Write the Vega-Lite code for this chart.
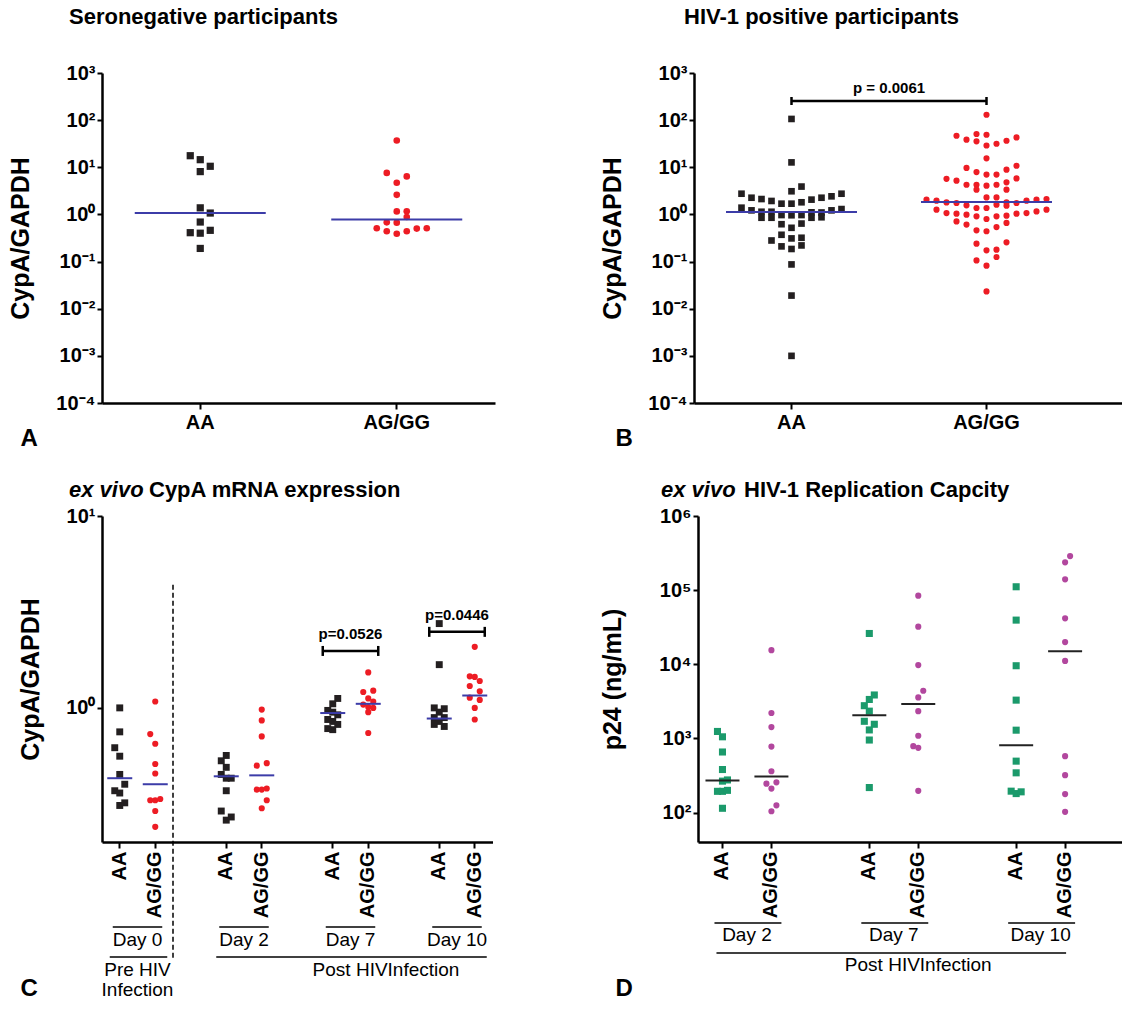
{
"$schema":"https://vega.github.io/schema/vega-lite/v6.json",
"background":"white",
"padding":{"left":8,"top":6,"right":0,"bottom":0},
"config":{
 "font":"Liberation Sans",
 "view":{"stroke":null},
 "axis":{"grid":false,"domainColor":"#000","domainWidth":2.5,"tickColor":"#000","tickWidth":2,"tickSize":6,"labelColor":"#000","labelFont":"Liberation Sans","labelFontWeight":"bold","labelFontSize":20,"titleColor":"#000","titleFont":"Liberation Sans","titleFontWeight":"bold","titleFontSize":25},
 "title":{"font":"Liberation Sans","fontSize":22,"fontWeight":"bold","color":"#000","anchor":"start","frame":"group"}
},
"datasets":{
 "A":[{"geno":"AA","col":-1,"v":17.6},{"geno":"AA","col":0,"v":14.5},{"geno":"AA","col":1,"v":10.5},{"geno":"AA","col":0,"v":8.1},{"geno":"AA","col":0,"v":1.38},{"geno":"AA","col":1,"v":1.07},{"geno":"AA","col":0,"v":0.69},{"geno":"AA","col":-1,"v":0.41},{"geno":"AA","col":0,"v":0.4},{"geno":"AA","col":1,"v":0.46},{"geno":"AA","col":0,"v":0.19},
  {"geno":"AG/GG","col":0,"v":37},{"geno":"AG/GG","col":-1,"v":7.6},{"geno":"AG/GG","col":1,"v":6.4},{"geno":"AG/GG","col":0,"v":4.7},{"geno":"AG/GG","col":0,"v":2.6},{"geno":"AG/GG","col":0,"v":1.16},{"geno":"AG/GG","col":1,"v":1.17},{"geno":"AG/GG","col":1,"v":0.88},{"geno":"AG/GG","col":-1,"v":0.68},{"geno":"AG/GG","col":0,"v":0.67},{"geno":"AG/GG","col":-2,"v":0.51},{"geno":"AG/GG","col":-1,"v":0.44},{"geno":"AG/GG","col":0,"v":0.39},{"geno":"AG/GG","col":1,"v":0.44},{"geno":"AG/GG","col":2,"v":0.5},{"geno":"AG/GG","col":3,"v":0.51}],
 "A_med":[{"geno":"AA","v":1.07},{"geno":"AG/GG","v":0.78}],
 "B":[{"geno":"AA","col":0,"v":106},{"geno":"AA","col":0,"v":12.7},{"geno":"AA","col":1,"v":3.9},{"geno":"AA","col":0,"v":3.1},{"geno":"AA","col":-5,"v":2.75},{"geno":"AA","col":5,"v":2.75},{"geno":"AA","col":-4,"v":2.26},{"geno":"AA","col":4,"v":2.42},{"geno":"AA","col":-3,"v":2.12},{"geno":"AA","col":3,"v":2.26},{"geno":"AA","col":-2,"v":1.93},{"geno":"AA","col":2,"v":2.06},{"geno":"AA","col":-1,"v":1.69},{"geno":"AA","col":0,"v":1.69},{"geno":"AA","col":1,"v":1.81},{"geno":"AA","col":-5,"v":1.39},{"geno":"AA","col":5,"v":1.3},{"geno":"AA","col":-4,"v":1.22},{"geno":"AA","col":4,"v":1.22},{"geno":"AA","col":-3,"v":1.14},{"geno":"AA","col":-3,"v":0.85},{"geno":"AA","col":-2,"v":1.14},{"geno":"AA","col":-2,"v":0.85},{"geno":"AA","col":-1,"v":0.97},{"geno":"AA","col":0,"v":0.96},{"geno":"AA","col":1,"v":0.97},{"geno":"AA","col":1,"v":0.64},{"geno":"AA","col":2,"v":1.11},{"geno":"AA","col":2,"v":0.85},{"geno":"AA","col":3,"v":1.1},{"geno":"AA","col":3,"v":0.87},{"geno":"AA","col":-1,"v":0.62},{"geno":"AA","col":0,"v":0.52},{"geno":"AA","col":-1,"v":0.37},{"geno":"AA","col":-2,"v":0.28},{"geno":"AA","col":0,"v":0.31},{"geno":"AA","col":1,"v":0.32},{"geno":"AA","col":1,"v":0.22},{"geno":"AA","col":-1,"v":0.21},{"geno":"AA","col":0,"v":0.185},{"geno":"AA","col":0,"v":0.087},{"geno":"AA","col":0,"v":0.019},{"geno":"AA","col":0,"v":0.001},
  {"geno":"AG/GG","col":0,"v":130},{"geno":"AG/GG","col":-3,"v":46.7},{"geno":"AG/GG","col":-2,"v":38.5},{"geno":"AG/GG","col":-1,"v":50.8},{"geno":"AG/GG","col":-1,"v":35.5},{"geno":"AG/GG","col":0,"v":49},{"geno":"AG/GG","col":0,"v":29},{"geno":"AG/GG","col":1,"v":31.6},{"geno":"AG/GG","col":2,"v":36.6},{"geno":"AG/GG","col":3,"v":43},{"geno":"AG/GG","col":0,"v":15.5},{"geno":"AG/GG","col":-2,"v":9.7},{"geno":"AG/GG","col":-1,"v":7.9},{"geno":"AG/GG","col":0,"v":7.0},{"geno":"AG/GG","col":1,"v":7.0},{"geno":"AG/GG","col":2,"v":8.9},{"geno":"AG/GG","col":3,"v":10.8},{"geno":"AG/GG","col":-4,"v":5.7},{"geno":"AG/GG","col":-3,"v":5.2},{"geno":"AG/GG","col":3,"v":5.8},{"geno":"AG/GG","col":-2,"v":4.27},{"geno":"AG/GG","col":-1,"v":4.27},{"geno":"AG/GG","col":0,"v":4.07},{"geno":"AG/GG","col":1,"v":4.27},{"geno":"AG/GG","col":2,"v":4.8},{"geno":"AG/GG","col":-1,"v":3.35},{"geno":"AG/GG","col":2,"v":3.35},{"geno":"AG/GG","col":0,"v":2.3},{"geno":"AG/GG","col":1,"v":2.3},{"geno":"AG/GG","col":-6,"v":2.06},{"geno":"AG/GG","col":-5,"v":1.96},{"geno":"AG/GG","col":-4,"v":1.8},{"geno":"AG/GG","col":-3,"v":1.75},{"geno":"AG/GG","col":2,"v":1.8},{"geno":"AG/GG","col":3,"v":1.75},{"geno":"AG/GG","col":4,"v":1.96},{"geno":"AG/GG","col":5,"v":2.06},{"geno":"AG/GG","col":6,"v":2.12},{"geno":"AG/GG","col":-5,"v":1.26},{"geno":"AG/GG","col":-4,"v":1.07},{"geno":"AG/GG","col":-3,"v":1.04},{"geno":"AG/GG","col":-2,"v":1.56},{"geno":"AG/GG","col":-1,"v":1.37},{"geno":"AG/GG","col":0,"v":1.37},{"geno":"AG/GG","col":1,"v":1.61},{"geno":"AG/GG","col":2,"v":1.53},{"geno":"AG/GG","col":3,"v":1.04},{"geno":"AG/GG","col":4,"v":1.07},{"geno":"AG/GG","col":5,"v":1.16},{"geno":"AG/GG","col":6,"v":1.26},{"geno":"AG/GG","col":-3,"v":0.71},{"geno":"AG/GG","col":-2,"v":0.99},{"geno":"AG/GG","col":-1,"v":0.91},{"geno":"AG/GG","col":0,"v":0.8},{"geno":"AG/GG","col":1,"v":0.91},{"geno":"AG/GG","col":2,"v":0.94},{"geno":"AG/GG","col":-2,"v":0.61},{"geno":"AG/GG","col":1,"v":0.54},{"geno":"AG/GG","col":2,"v":0.66},{"geno":"AG/GG","col":-1,"v":0.46},{"geno":"AG/GG","col":0,"v":0.44},{"geno":"AG/GG","col":-1,"v":0.24},{"geno":"AG/GG","col":2,"v":0.256},{"geno":"AG/GG","col":0,"v":0.173},{"geno":"AG/GG","col":1,"v":0.179},{"geno":"AG/GG","col":1,"v":0.125},{"geno":"AG/GG","col":-1,"v":0.106},{"geno":"AG/GG","col":0,"v":0.082},{"geno":"AG/GG","col":0,"v":0.0233}],
 "B_med":[{"geno":"AA","v":1.12},{"geno":"AG/GG","v":1.84}],
 "B_brk":[{"from":"AA","to":"AG/GG","y":255,"p":"p = 0.0061"}],
 "C":[{"cat":"D0 AA","geno":"AA","col":0,"v":1.0},{"cat":"D0 AA","geno":"AA","col":0,"v":0.75},{"cat":"D0 AA","geno":"AA","col":-1,"v":0.62},{"cat":"D0 AA","geno":"AA","col":0,"v":0.56},{"cat":"D0 AA","geno":"AA","col":0,"v":0.45},{"cat":"D0 AA","geno":"AA","col":1,"v":0.4},{"cat":"D0 AA","geno":"AA","col":-1,"v":0.37},{"cat":"D0 AA","geno":"AA","col":0,"v":0.36},{"cat":"D0 AA","geno":"AA","col":1,"v":0.32},{"cat":"D0 AA","geno":"AA","col":0,"v":0.31},
  {"cat":"D0 AG/GG","geno":"AG/GG","col":0,"v":1.08},{"cat":"D0 AG/GG","geno":"AG/GG","col":-1,"v":0.73},{"cat":"D0 AG/GG","geno":"AG/GG","col":0,"v":0.65},{"cat":"D0 AG/GG","geno":"AG/GG","col":0,"v":0.51},{"cat":"D0 AG/GG","geno":"AG/GG","col":0,"v":0.455},{"cat":"D0 AG/GG","geno":"AG/GG","col":-1,"v":0.33},{"cat":"D0 AG/GG","geno":"AG/GG","col":0,"v":0.33},{"cat":"D0 AG/GG","geno":"AG/GG","col":1,"v":0.335},{"cat":"D0 AG/GG","geno":"AG/GG","col":0,"v":0.29},{"cat":"D0 AG/GG","geno":"AG/GG","col":0,"v":0.24},
  {"cat":"D2 AA","geno":"AA","col":0,"v":0.565},{"cat":"D2 AA","geno":"AA","col":-1,"v":0.53},{"cat":"D2 AA","geno":"AA","col":0,"v":0.49},{"cat":"D2 AA","geno":"AA","col":-1,"v":0.45},{"cat":"D2 AA","geno":"AA","col":0,"v":0.43},{"cat":"D2 AA","geno":"AA","col":1,"v":0.43},{"cat":"D2 AA","geno":"AA","col":0,"v":0.37},{"cat":"D2 AA","geno":"AA","col":-1,"v":0.29},{"cat":"D2 AA","geno":"AA","col":0,"v":0.26},{"cat":"D2 AA","geno":"AA","col":1,"v":0.27},
  {"cat":"D2 AG/GG","geno":"AG/GG","col":0,"v":0.98},{"cat":"D2 AG/GG","geno":"AG/GG","col":0,"v":0.86},{"cat":"D2 AG/GG","geno":"AG/GG","col":0,"v":0.71},{"cat":"D2 AG/GG","geno":"AG/GG","col":-1,"v":0.5},{"cat":"D2 AG/GG","geno":"AG/GG","col":1,"v":0.515},{"cat":"D2 AG/GG","geno":"AG/GG","col":-1,"v":0.375},{"cat":"D2 AG/GG","geno":"AG/GG","col":0,"v":0.375},{"cat":"D2 AG/GG","geno":"AG/GG","col":1,"v":0.38},{"cat":"D2 AG/GG","geno":"AG/GG","col":1,"v":0.33},{"cat":"D2 AG/GG","geno":"AG/GG","col":0,"v":0.3},
  {"cat":"D7 AA","geno":"AA","col":1,"v":1.12},{"cat":"D7 AA","geno":"AA","col":0,"v":1.05},{"cat":"D7 AA","geno":"AA","col":-1,"v":0.97},{"cat":"D7 AA","geno":"AA","col":0,"v":0.95},{"cat":"D7 AA","geno":"AA","col":1,"v":0.92},{"cat":"D7 AA","geno":"AA","col":-1,"v":0.87},{"cat":"D7 AA","geno":"AA","col":0,"v":0.85},{"cat":"D7 AA","geno":"AA","col":1,"v":0.82},{"cat":"D7 AA","geno":"AA","col":0,"v":0.77},{"cat":"D7 AA","geno":"AA","col":-1,"v":0.78},
  {"cat":"D7 AG/GG","geno":"AG/GG","col":0,"v":1.53},{"cat":"D7 AG/GG","geno":"AG/GG","col":-1,"v":1.21},{"cat":"D7 AG/GG","geno":"AG/GG","col":1,"v":1.23},{"cat":"D7 AG/GG","geno":"AG/GG","col":0,"v":1.12},{"cat":"D7 AG/GG","geno":"AG/GG","col":1,"v":1.08},{"cat":"D7 AG/GG","geno":"AG/GG","col":-1,"v":1.04},{"cat":"D7 AG/GG","geno":"AG/GG","col":0,"v":1.01},{"cat":"D7 AG/GG","geno":"AG/GG","col":1,"v":1.0},{"cat":"D7 AG/GG","geno":"AG/GG","col":0,"v":0.95},{"cat":"D7 AG/GG","geno":"AG/GG","col":0,"v":0.74},
  {"cat":"D10 AA","geno":"AA","col":0,"v":2.75},{"cat":"D10 AA","geno":"AA","col":0,"v":1.68},{"cat":"D10 AA","geno":"AA","col":-1,"v":1.0},{"cat":"D10 AA","geno":"AA","col":1,"v":0.99},{"cat":"D10 AA","geno":"AA","col":0,"v":0.95},{"cat":"D10 AA","geno":"AA","col":-1,"v":0.89},{"cat":"D10 AA","geno":"AA","col":1,"v":0.89},{"cat":"D10 AA","geno":"AA","col":0,"v":0.85},{"cat":"D10 AA","geno":"AA","col":-1,"v":0.82},{"cat":"D10 AA","geno":"AA","col":1,"v":0.8},
  {"cat":"D10 AG/GG","geno":"AG/GG","col":0,"v":2.08},{"cat":"D10 AG/GG","geno":"AG/GG","col":-1,"v":1.46},{"cat":"D10 AG/GG","geno":"AG/GG","col":0,"v":1.45},{"cat":"D10 AG/GG","geno":"AG/GG","col":1,"v":1.38},{"cat":"D10 AG/GG","geno":"AG/GG","col":-1,"v":1.3},{"cat":"D10 AG/GG","geno":"AG/GG","col":1,"v":1.22},{"cat":"D10 AG/GG","geno":"AG/GG","col":-1,"v":1.13},{"cat":"D10 AG/GG","geno":"AG/GG","col":1,"v":1.1},{"cat":"D10 AG/GG","geno":"AG/GG","col":0,"v":1.0},{"cat":"D10 AG/GG","geno":"AG/GG","col":0,"v":0.87}],
 "C_med":[{"cat":"D0 AA","v":0.43},{"cat":"D0 AG/GG","v":0.4},{"cat":"D2 AA","v":0.44},{"cat":"D2 AG/GG","v":0.445},{"cat":"D7 AA","v":0.94},{"cat":"D7 AG/GG","v":1.05},{"cat":"D10 AA","v":0.88},{"cat":"D10 AG/GG","v":1.16}],
 "C_brk":[{"from":"D7 AA","to":"D7 AG/GG","y":1.98,"p":"p=0.0526"},{"from":"D10 AA","to":"D10 AG/GG","y":2.49,"p":"p=0.0446"}],
 "C_lines":[{"from":"D0 AA","to":"D0 AG/GG","level":"day"},{"from":"D2 AA","to":"D2 AG/GG","level":"day"},{"from":"D7 AA","to":"D7 AG/GG","level":"day"},{"from":"D10 AA","to":"D10 AG/GG","level":"day"},{"from":"D0 AA","to":"D0 AG/GG","level":"group"},{"from":"D2 AA","to":"D10 AG/GG","level":"group"}],
 "C_text":[{"at":"D0 AA","label":"Day 0","level":"day"},{"at":"D2 AA","label":"Day 2","level":"day"},{"at":"D7 AA","label":"Day 7","level":"day"},{"at":"D10 AA","label":"Day 10","level":"day"},{"at":"D0 AA","label":"Pre HIV\nInfection","level":"group"},{"at":"D7 AG/GG","label":"Post HIVInfection","level":"group"}],
 "D":[{"cat":"D2 AA","geno":"AA","col":-1,"v":1240},{"cat":"D2 AA","geno":"AA","col":0,"v":1050},{"cat":"D2 AA","geno":"AA","col":0,"v":655},{"cat":"D2 AA","geno":"AA","col":0,"v":380},{"cat":"D2 AA","geno":"AA","col":0,"v":265},{"cat":"D2 AA","geno":"AA","col":1,"v":275},{"cat":"D2 AA","geno":"AA","col":-1,"v":193},{"cat":"D2 AA","geno":"AA","col":0,"v":193},{"cat":"D2 AA","geno":"AA","col":1,"v":199},{"cat":"D2 AA","geno":"AA","col":0,"v":114},
  {"cat":"D2 AG/GG","geno":"AG/GG","col":0,"v":15500},{"cat":"D2 AG/GG","geno":"AG/GG","col":0,"v":2200},{"cat":"D2 AG/GG","geno":"AG/GG","col":0,"v":1420},{"cat":"D2 AG/GG","geno":"AG/GG","col":0,"v":775},{"cat":"D2 AG/GG","geno":"AG/GG","col":0,"v":360},{"cat":"D2 AG/GG","geno":"AG/GG","col":-1,"v":245},{"cat":"D2 AG/GG","geno":"AG/GG","col":1,"v":255},{"cat":"D2 AG/GG","geno":"AG/GG","col":0,"v":210},{"cat":"D2 AG/GG","geno":"AG/GG","col":1,"v":125},{"cat":"D2 AG/GG","geno":"AG/GG","col":0,"v":104},
  {"cat":"D7 AA","geno":"AA","col":0,"v":26000},{"cat":"D7 AA","geno":"AA","col":1,"v":3850},{"cat":"D7 AA","geno":"AA","col":0,"v":3350},{"cat":"D7 AA","geno":"AA","col":-1,"v":2760},{"cat":"D7 AA","geno":"AA","col":0,"v":2330},{"cat":"D7 AA","geno":"AA","col":-1,"v":1700},{"cat":"D7 AA","geno":"AA","col":1,"v":1550},{"cat":"D7 AA","geno":"AA","col":0,"v":1300},{"cat":"D7 AA","geno":"AA","col":0,"v":950},{"cat":"D7 AA","geno":"AA","col":0,"v":217},
  {"cat":"D7 AG/GG","geno":"AG/GG","col":0,"v":84200},{"cat":"D7 AG/GG","geno":"AG/GG","col":0,"v":32100},{"cat":"D7 AG/GG","geno":"AG/GG","col":0,"v":9740},{"cat":"D7 AG/GG","geno":"AG/GG","col":1,"v":4390},{"cat":"D7 AG/GG","geno":"AG/GG","col":0,"v":3565},{"cat":"D7 AG/GG","geno":"AG/GG","col":0,"v":2330},{"cat":"D7 AG/GG","geno":"AG/GG","col":0,"v":1085},{"cat":"D7 AG/GG","geno":"AG/GG","col":-1,"v":786},{"cat":"D7 AG/GG","geno":"AG/GG","col":0,"v":746},{"cat":"D7 AG/GG","geno":"AG/GG","col":0,"v":196},
  {"cat":"D10 AA","geno":"AA","col":0,"v":111000},{"cat":"D10 AA","geno":"AA","col":0,"v":39400},{"cat":"D10 AA","geno":"AA","col":0,"v":9550},{"cat":"D10 AA","geno":"AA","col":0,"v":3280},{"cat":"D10 AA","geno":"AA","col":0,"v":1290},{"cat":"D10 AA","geno":"AA","col":0,"v":493},{"cat":"D10 AA","geno":"AA","col":0,"v":343},{"cat":"D10 AA","geno":"AA","col":-1,"v":194},{"cat":"D10 AA","geno":"AA","col":0,"v":180},{"cat":"D10 AA","geno":"AA","col":1,"v":190},
  {"cat":"D10 AG/GG","geno":"AG/GG","col":1,"v":288000},{"cat":"D10 AG/GG","geno":"AG/GG","col":0,"v":237000},{"cat":"D10 AG/GG","geno":"AG/GG","col":0,"v":140000},{"cat":"D10 AG/GG","geno":"AG/GG","col":0,"v":41600},{"cat":"D10 AG/GG","geno":"AG/GG","col":0,"v":19900},{"cat":"D10 AG/GG","geno":"AG/GG","col":0,"v":11100},{"cat":"D10 AG/GG","geno":"AG/GG","col":0,"v":575},{"cat":"D10 AG/GG","geno":"AG/GG","col":0,"v":319},{"cat":"D10 AG/GG","geno":"AG/GG","col":0,"v":177},{"cat":"D10 AG/GG","geno":"AG/GG","col":0,"v":102}],
 "D_med":[{"cat":"D2 AA","v":270},{"cat":"D2 AG/GG","v":305},{"cat":"D7 AA","v":2050},{"cat":"D7 AG/GG","v":2900},{"cat":"D10 AA","v":810},{"cat":"D10 AG/GG","v":15000}],
 "D_lines":[{"from":"D2 AA","to":"D2 AG/GG","level":"day"},{"from":"D7 AA","to":"D7 AG/GG","level":"day"},{"from":"D10 AA","to":"D10 AG/GG","level":"day"},{"from":"D2 AA","to":"D10 AG/GG","level":"group"}],
 "D_text":[{"at":"D2 AA","label":"Day 2","level":"day"},{"at":"D7 AA","label":"Day 7","level":"day"},{"at":"D10 AA","label":"Day 10","level":"day"},{"at":"D7 AG/GG","label":"Post HIVInfection","level":"group"}]
},
"spacing":29,
"resolve":{"scale":{"color":"independent","shape":"independent","size":"independent","xOffset":"independent"}},
"vconcat":[
 {"spacing":105,
  "resolve":{"scale":{"color":"independent","shape":"independent","size":"independent","xOffset":"independent"}},
  "hconcat":[
  {"width":393,"height":330,
   "title":{"text":"Seronegative participants","dx":-33,"offset":34},
   "layer":[
    {"data":{"name":"A"},"mark":{"type":"point","filled":true,"opacity":1,"strokeWidth":0},
     "encoding":{
      "x":{"field":"geno","type":"nominal","scale":{"type":"band","domain":["AA","AG/GG"],"paddingInner":0,"paddingOuter":0},
           "axis":{"title":"A","labelAngle":0,"labelPadding":3,"titleFontSize":24,"titleAnchor":"start","titleAlign":"left","titleBaseline":"middle","titleX":-82,"titleY":35}},
      "xOffset":{"field":"col","type":"quantitative","scale":{"domain":[-9.825,9.825],"nice":false,"zero":false}},
      "y":{"field":"v","type":"quantitative","scale":{"type":"log","domain":[0.0001,1000],"nice":false},
           "axis":{"title":"CypA/GAPDH","values":[0.0001,0.001,0.01,0.1,1,10,100,1000],"tickSize":5,"titlePadding":22,
                   "labelExpr":"'10' + replace(replace(replace(replace(replace(replace(replace(replace('' + round(log(datum.value) / LN10), '-', '⁻'), '0', '⁰'), '1', '¹'), '2', '²'), '3', '³'), '4', '⁴'), '5', '⁵'), '6', '⁶')"}},
      "shape":{"field":"geno","type":"nominal","scale":{"domain":["AA","AG/GG"],"range":["square","circle"]},"legend":null},
      "color":{"field":"geno","type":"nominal","scale":{"domain":["AA","AG/GG"],"range":["#231f20","#ed1c24"]},"legend":null},
      "size":{"field":"geno","type":"nominal","scale":{"domain":["AA","AG/GG"],"range":[52,44]},"legend":null}}},
    {"data":{"name":"A_med"},"mark":{"type":"tick","orient":"horizontal","size":131,"thickness":2,"color":"#3c3ca8","opacity":1},
     "encoding":{"x":{"field":"geno","type":"nominal"},"y":{"field":"v","type":"quantitative"}}}
   ]},
  {"width":429,"height":330,
   "title":{"text":"HIV-1 positive participants","dx":-10,"offset":34},
   "layer":[
    {"data":{"name":"B"},"mark":{"type":"point","filled":true,"opacity":1,"strokeWidth":0},
     "encoding":{
      "x":{"field":"geno","type":"nominal","scale":{"type":"band","domain":["AA","AG/GG"],"paddingInner":0,"paddingOuter":0.1,"align":0},
           "axis":{"title":"B","labelAngle":0,"labelPadding":3,"titleFontSize":24,"titleAnchor":"start","titleAlign":"left","titleBaseline":"middle","titleX":-79,"titleY":35}},
      "xOffset":{"field":"col","type":"quantitative","scale":{"domain":[-9.75,9.75],"nice":false,"zero":false}},
      "y":{"field":"v","type":"quantitative","scale":{"type":"log","domain":[0.0001,1000],"nice":false},
           "axis":{"title":"CypA/GAPDH","values":[0.0001,0.001,0.01,0.1,1,10,100,1000],"tickSize":5,"titlePadding":22,
                   "labelExpr":"'10' + replace(replace(replace(replace(replace(replace(replace(replace('' + round(log(datum.value) / LN10), '-', '⁻'), '0', '⁰'), '1', '¹'), '2', '²'), '3', '³'), '4', '⁴'), '5', '⁵'), '6', '⁶')"}},
      "shape":{"field":"geno","type":"nominal","scale":{"domain":["AA","AG/GG"],"range":["square","circle"]},"legend":null},
      "color":{"field":"geno","type":"nominal","scale":{"domain":["AA","AG/GG"],"range":["#231f20","#ed1c24"]},"legend":null},
      "size":{"field":"geno","type":"nominal","scale":{"domain":["AA","AG/GG"],"range":[44,38]},"legend":null}}},
    {"data":{"name":"B_med"},"mark":{"type":"tick","orient":"horizontal","size":131,"thickness":2,"color":"#3c3ca8","opacity":1},
     "encoding":{"x":{"field":"geno","type":"nominal"},"y":{"field":"v","type":"quantitative"}}},
    {"data":{"name":"B_brk"},"mark":{"type":"rule","strokeWidth":2.5,"color":"#000"},
     "encoding":{"x":{"field":"from","type":"nominal","bandPosition":0.5},"x2":{"field":"to"},"y":{"field":"y","type":"quantitative"}}},
    {"data":{"name":"B_brk"},"mark":{"type":"tick","orient":"vertical","size":8,"thickness":2.5,"color":"#000","opacity":1},
     "encoding":{"x":{"field":"from","type":"nominal"},"y":{"field":"y","type":"quantitative"}}},
    {"data":{"name":"B_brk"},"mark":{"type":"tick","orient":"vertical","size":8,"thickness":2.5,"color":"#000","opacity":1},
     "encoding":{"x":{"field":"to","type":"nominal"},"y":{"field":"y","type":"quantitative"}}},
    {"data":{"name":"B_brk"},"mark":{"type":"text","fontSize":15,"fontWeight":"bold","baseline":"bottom","dy":-5,"color":"#000"},
     "encoding":{"x":{"field":"from","type":"nominal","bandPosition":1},"y":{"field":"y","type":"quantitative"},"text":{"field":"p"}}}
   ]}
 ]},
 {"spacing":107,
  "resolve":{"scale":{"color":"independent","shape":"independent","size":"independent","xOffset":"independent"}},
  "hconcat":[
  {"title":{"text":"ex vivo","fontStyle":"italic","dx":-33,"dy":23,"offset":0},
   "bounds":"flush","spacing":85,
   "resolve":{"scale":{"color":"independent","shape":"independent","size":"independent","xOffset":"independent"}},
   "vconcat":[
    {"width":390.5,"height":326,
     "title":{"text":"CypA mRNA expression","dx":47,"offset":4},
     "layer":[
      {"data":{"name":"C"},"mark":{"type":"point","filled":true,"opacity":1,"strokeWidth":0},
       "encoding":{
        "x":{"field":"cat","type":"nominal","scale":{"type":"band","domain":["D0 AA","D0 AG/GG","g1","D2 AA","D2 AG/GG","g2","D7 AA","D7 AG/GG","g3","D10 AA","D10 AG/GG"],"paddingInner":0,"paddingOuter":0},
             "axis":{"title":null,"values":["D0 AA","D0 AG/GG","D2 AA","D2 AG/GG","D7 AA","D7 AG/GG","D10 AA","D10 AG/GG"],"labelExpr":"split(datum.value, ' ')[1]","labelAngle":270,"labelPadding":3}},
        "xOffset":{"field":"col","type":"quantitative","scale":{"domain":[-3.55,3.55],"nice":false,"zero":false}},
        "y":{"field":"v","type":"quantitative","scale":{"type":"log","domain":[0.2,10],"nice":false},
             "axis":{"title":"CypA/GAPDH","values":[1,10],"tickSize":5,"titlePadding":22,
                     "labelExpr":"'10' + replace(replace(replace(replace(replace(replace(replace(replace('' + round(log(datum.value) / LN10), '-', '⁻'), '0', '⁰'), '1', '¹'), '2', '²'), '3', '³'), '4', '⁴'), '5', '⁵'), '6', '⁶')"}},
        "shape":{"field":"geno","type":"nominal","scale":{"domain":["AA","AG/GG"],"range":["square","circle"]},"legend":null},
        "color":{"field":"geno","type":"nominal","scale":{"domain":["AA","AG/GG"],"range":["#231f20","#ed1c24"]},"legend":null},
        "size":{"field":"geno","type":"nominal","scale":{"domain":["AA","AG/GG"],"range":[48,38]},"legend":null}}},
      {"data":{"name":"C_med"},"mark":{"type":"tick","orient":"horizontal","size":25,"thickness":2,"color":"#3c3ca8","opacity":1},
       "encoding":{"x":{"field":"cat","type":"nominal"},"y":{"field":"v","type":"quantitative"}}},
      {"data":{"values":[{"at":"g1"}]},"mark":{"type":"rule","strokeDash":[5,3],"strokeWidth":1.5,"color":"#000"},
       "encoding":{"x":{"field":"at","type":"nominal","bandPosition":0},"y":{"datum":4.38},"y2":{"datum":0.049}}},
      {"data":{"name":"C_brk"},"mark":{"type":"rule","strokeWidth":2.5,"color":"#000","xOffset":-10,"x2Offset":10},
       "encoding":{"x":{"field":"from","type":"nominal","bandPosition":0.5},"x2":{"field":"to"},"y":{"field":"y","type":"quantitative"}}},
      {"data":{"name":"C_brk"},"mark":{"type":"tick","orient":"vertical","size":10,"thickness":2.5,"color":"#000","opacity":1,"xOffset":-10},
       "encoding":{"x":{"field":"from","type":"nominal"},"y":{"field":"y","type":"quantitative"}}},
      {"data":{"name":"C_brk"},"mark":{"type":"tick","orient":"vertical","size":10,"thickness":2.5,"color":"#000","opacity":1,"xOffset":10},
       "encoding":{"x":{"field":"to","type":"nominal"},"y":{"field":"y","type":"quantitative"}}},
      {"data":{"name":"C_brk"},"mark":{"type":"text","fontSize":15,"fontWeight":"bold","baseline":"bottom","dy":-9,"color":"#000"},
       "encoding":{"x":{"field":"from","type":"nominal","bandPosition":1},"y":{"field":"y","type":"quantitative"},"text":{"field":"p"}}}
     ]},
    {"width":390.5,"height":60,
     "layer":[
      {"data":{"name":"C_lines"},"transform":[{"filter":"datum.level == 'day'"}],
       "mark":{"type":"rule","strokeWidth":1.5,"color":"#000","xOffset":-7,"x2Offset":7},
       "encoding":{
        "x":{"field":"from","type":"nominal","bandPosition":0.5,"scale":{"type":"band","domain":["D0 AA","D0 AG/GG","g1","D2 AA","D2 AG/GG","g2","D7 AA","D7 AG/GG","g3","D10 AA","D10 AG/GG"],"paddingInner":0,"paddingOuter":0},
             "axis":{"domain":false,"ticks":false,"labels":false,"title":"C","titleFontSize":24,"titleAnchor":"start","titleAlign":"left","titleBaseline":"middle","titleX":-82,"titleY":1}},
        "x2":{"field":"to"},
        "y":{"field":"level","type":"nominal","bandPosition":0,"scale":{"type":"band","domain":["day","group"],"paddingInner":0,"paddingOuter":0},"axis":null}}},
      {"data":{"name":"C_lines"},"transform":[{"filter":"datum.level == 'group'"}],
       "mark":{"type":"rule","strokeWidth":1.5,"color":"#000","xOffset":-10,"x2Offset":12},
       "encoding":{"x":{"field":"from","type":"nominal","bandPosition":0.5},"x2":{"field":"to"},"y":{"field":"level","type":"nominal","bandPosition":0}}},
      {"data":{"name":"C_text"},
       "mark":{"type":"text","fontSize":19,"fontWeight":"normal","baseline":"top","dy":4,"lineBreak":"\n","lineHeight":20,"color":"#000"},
       "encoding":{"x":{"field":"at","type":"nominal","bandPosition":1},"y":{"field":"level","type":"nominal","bandPosition":0},"text":{"field":"label"}}}
     ]}
   ]},
  {"title":{"text":"ex vivo","fontStyle":"italic","dx":-37,"dy":23,"offset":0},
   "bounds":"flush","spacing":81,
   "resolve":{"scale":{"color":"independent","shape":"independent","size":"independent","xOffset":"independent"}},
   "vconcat":[
    {"width":428,"height":326,
     "title":{"text":"HIV-1 Replication Capcity","dx":46,"offset":4},
     "layer":[
      {"data":{"name":"D"},"mark":{"type":"point","filled":true,"opacity":1,"strokeWidth":0},
       "encoding":{
        "x":{"field":"cat","type":"nominal","scale":{"type":"band","domain":["D2 AA","D2 AG/GG","g1","D7 AA","D7 AG/GG","g2","D10 AA","D10 AG/GG"],"paddingInner":0,"paddingOuter":0.372,"align":0},
             "axis":{"title":null,"values":["D2 AA","D2 AG/GG","D7 AA","D7 AG/GG","D10 AA","D10 AG/GG"],"labelExpr":"split(datum.value, ' ')[1]","labelAngle":270,"labelPadding":3}},
        "xOffset":{"field":"col","type":"quantitative","scale":{"domain":[-4.9,4.9],"nice":false,"zero":false}},
        "y":{"field":"v","type":"quantitative","scale":{"type":"log","domain":[40,1000000],"nice":false},
             "axis":{"title":"p24 (ng/mL)","values":[100,1000,10000,100000,1000000],"tickSize":5,"titlePadding":33,
                     "labelExpr":"'10' + replace(replace(replace(replace(replace(replace(replace(replace('' + round(log(datum.value) / LN10), '-', '⁻'), '0', '⁰'), '1', '¹'), '2', '²'), '3', '³'), '4', '⁴'), '5', '⁵'), '6', '⁶')"}},
        "shape":{"field":"geno","type":"nominal","scale":{"domain":["AA","AG/GG"],"range":["square","circle"]},"legend":null},
        "color":{"field":"geno","type":"nominal","scale":{"domain":["AA","AG/GG"],"range":["#1b9a6b","#b2479e"]},"legend":null},
        "size":{"field":"geno","type":"nominal","scale":{"domain":["AA","AG/GG"],"range":[50,38]},"legend":null}}},
      {"data":{"name":"D_med"},"mark":{"type":"tick","orient":"horizontal","size":34,"thickness":2,"color":"#222","opacity":1},
       "encoding":{"x":{"field":"cat","type":"nominal"},"y":{"field":"v","type":"quantitative"}}}
     ]},
    {"width":428,"height":60,
     "layer":[
      {"data":{"name":"D_lines"},"transform":[{"filter":"datum.level == 'day'"}],
       "mark":{"type":"rule","strokeWidth":1.5,"color":"#000","xOffset":-8,"x2Offset":10},
       "encoding":{
        "x":{"field":"from","type":"nominal","bandPosition":0.5,"scale":{"type":"band","domain":["D2 AA","D2 AG/GG","g1","D7 AA","D7 AG/GG","g2","D10 AA","D10 AG/GG"],"paddingInner":0,"paddingOuter":0.372,"align":0},
             "axis":{"domain":false,"ticks":false,"labels":false,"title":"D","titleFontSize":24,"titleAnchor":"start","titleAlign":"left","titleBaseline":"middle","titleX":-83,"titleY":5}},
        "x2":{"field":"to"},
        "y":{"field":"level","type":"nominal","bandPosition":0,"scale":{"type":"band","domain":["day","group"],"paddingInner":0,"paddingOuter":0},"axis":null}}},
      {"data":{"name":"D_lines"},"transform":[{"filter":"datum.level == 'group'"}],
       "mark":{"type":"rule","strokeWidth":1.5,"color":"#000","xOffset":-6,"x2Offset":1},
       "encoding":{"x":{"field":"from","type":"nominal","bandPosition":0.5},"x2":{"field":"to"},"y":{"field":"level","type":"nominal","bandPosition":0}}},
      {"data":{"name":"D_text"},"transform":[{"filter":"datum.level == 'day'"}],
       "mark":{"type":"text","fontSize":19,"fontWeight":"normal","baseline":"top","dy":3,"color":"#000"},
       "encoding":{"x":{"field":"at","type":"nominal","bandPosition":1},"y":{"field":"level","type":"nominal","bandPosition":0},"text":{"field":"label"}}},
      {"data":{"name":"D_text"},"transform":[{"filter":"datum.level == 'group'"}],
       "mark":{"type":"text","fontSize":19,"fontWeight":"normal","baseline":"top","dy":3,"color":"#000"},
       "encoding":{"x":{"field":"at","type":"nominal","bandPosition":0.5},"y":{"field":"level","type":"nominal","bandPosition":0},"text":{"field":"label"}}}
     ]}
   ]}
 ]}
]
}
